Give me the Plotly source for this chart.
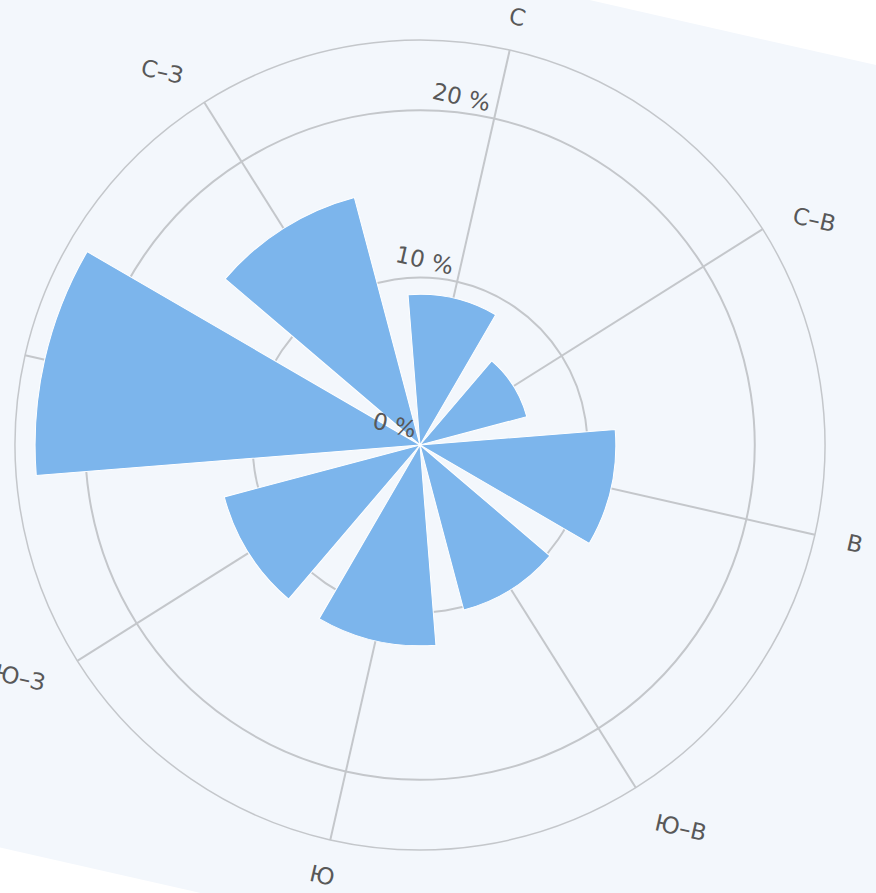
import plotly.graph_objects as go

# ---- data ----
directions = ["С", "С–В", "В", "Ю–В", "Ю", "Ю–З", "З", "С–З"]
frequency = [9.0, 6.6, 11.7, 10.2, 12.0, 12.1, 23.0, 15.3]   # %
radial_ticks = [0, 10, 20]
radial_labels = ["0 %", "10 %", "20 %"]

# ---- styles ----
BG = "#f3f7fc"
BAR = "#7cb5ec"
GRID = "#c4c7cb"
TXT = "#585858"
FONT = "DejaVu Sans"
PAD = "\u2002"            # en space: keeps side labels a little off the ring

W, H = 1120, 957          # figure size (page is rotated afterwards)
CX, CY, R = 560, 471.5, 405

step = 360 / len(directions)
angles = [i * step for i in range(len(directions))]

fig = go.Figure()
fig.add_trace(go.Barpolar(
    r=frequency, theta=angles, width=34.7,
    marker=dict(color=BAR, line=dict(color="#ffffff", width=1)),
    hoverinfo="skip", showlegend=False,
))
fig.add_trace(go.Scatterpolar(
    r=radial_ticks, theta=[0] * len(radial_ticks), mode="text",
    text=[t + " " for t in radial_labels], textposition="top left",
    textfont=dict(size=23, color=TXT, family=FONT),
    cliponaxis=False, hoverinfo="skip", showlegend=False,
))

fig.update_layout(
    width=W, height=H,
    margin=dict(l=0, r=0, t=0, b=0),
    paper_bgcolor=BG,
    showlegend=False,
    font=dict(family=FONT, color=TXT),
    polar=dict(
        domain=dict(x=[(CX - R) / W, (CX + R) / W],
                    y=[(H - CY - R) / H, (H - CY + R) / H]),
        bgcolor=BG,
        radialaxis=dict(range=[0, 24.2], tickvals=radial_ticks,
                        showticklabels=False, ticks="", showline=False,
                        gridcolor=GRID, gridwidth=1.5, layer="below traces"),
        angularaxis=dict(tickmode="array", tickvals=angles,
                         ticktext=[PAD + d + PAD for d in directions],
                         direction="clockwise", rotation=90,
                         showline=True, linecolor=GRID, linewidth=1.5,
                         gridcolor=GRID, gridwidth=1.5,
                         ticks="outside", ticklen=16, tickcolor="rgba(0,0,0,0)",
                         tickfont=dict(size=23, color=TXT, family=FONT),
                         layer="below traces"),
    ),
)

post = """
var gd = document.getElementById('{plot_id}');
document.documentElement.style.overflow = 'hidden';
document.body.style.overflow = 'hidden';
document.body.style.margin = '0';
document.body.style.background = '#ffffff';
gd.style.transformOrigin = '560px 471.5px';
gd.style.transform = 'translate(-140px, -26.5px) rotate(12.8deg)';
"""

fig.write_html("out.html", config={"displayModeBar": False}, post_script=post)
